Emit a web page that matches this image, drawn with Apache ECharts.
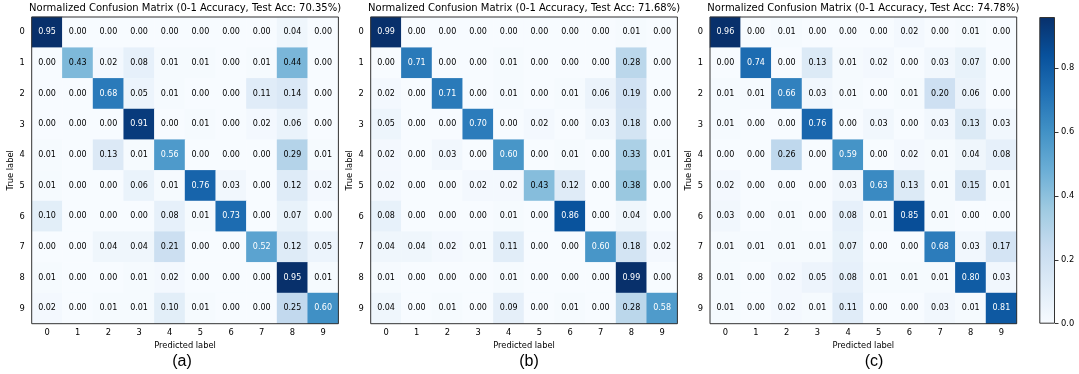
<!DOCTYPE html>
<html>
<head>
<meta charset="utf-8">
<script src="https://cdn.jsdelivr.net/npm/echarts@6/dist/echarts.min.js"></script>
<style>
  html, body { margin: 0; padding: 0; background: #fff; }
  #chart { width: 1079px; height: 374px; }
</style>
</head>
<body>
<div id="chart"></div>
<script>
// class labels (0-9)
const classLabels = ['0', '1', '2', '3', '4', '5', '6', '7', '8', '9']

// rows = true label, columns = predicted label
const matrixA = [
  [0.95, 0.00, 0.00, 0.00, 0.00, 0.00, 0.00, 0.00, 0.04, 0.00],
  [0.00, 0.43, 0.02, 0.08, 0.01, 0.01, 0.00, 0.01, 0.44, 0.00],
  [0.00, 0.00, 0.68, 0.05, 0.01, 0.00, 0.00, 0.11, 0.14, 0.00],
  [0.00, 0.00, 0.00, 0.91, 0.00, 0.01, 0.00, 0.02, 0.06, 0.00],
  [0.01, 0.00, 0.13, 0.01, 0.56, 0.00, 0.00, 0.00, 0.29, 0.01],
  [0.01, 0.00, 0.00, 0.06, 0.01, 0.76, 0.03, 0.00, 0.12, 0.02],
  [0.10, 0.00, 0.00, 0.00, 0.08, 0.01, 0.73, 0.00, 0.07, 0.00],
  [0.00, 0.00, 0.04, 0.04, 0.21, 0.00, 0.00, 0.52, 0.12, 0.05],
  [0.01, 0.00, 0.00, 0.01, 0.02, 0.00, 0.00, 0.00, 0.95, 0.01],
  [0.02, 0.00, 0.01, 0.01, 0.10, 0.01, 0.00, 0.00, 0.25, 0.60]
]
const matrixB = [
  [0.99, 0.00, 0.00, 0.00, 0.00, 0.00, 0.00, 0.00, 0.01, 0.00],
  [0.00, 0.71, 0.00, 0.00, 0.01, 0.00, 0.00, 0.00, 0.28, 0.00],
  [0.02, 0.00, 0.71, 0.00, 0.01, 0.00, 0.01, 0.06, 0.19, 0.00],
  [0.05, 0.00, 0.00, 0.70, 0.00, 0.02, 0.00, 0.03, 0.18, 0.00],
  [0.02, 0.00, 0.03, 0.00, 0.60, 0.00, 0.01, 0.00, 0.33, 0.01],
  [0.02, 0.00, 0.00, 0.02, 0.02, 0.43, 0.12, 0.00, 0.38, 0.00],
  [0.08, 0.00, 0.00, 0.00, 0.01, 0.00, 0.86, 0.00, 0.04, 0.00],
  [0.04, 0.04, 0.02, 0.01, 0.11, 0.00, 0.00, 0.60, 0.18, 0.02],
  [0.01, 0.00, 0.00, 0.00, 0.01, 0.00, 0.00, 0.00, 0.99, 0.00],
  [0.04, 0.00, 0.01, 0.00, 0.09, 0.00, 0.01, 0.00, 0.28, 0.58]
]
const matrixC = [
  [0.96, 0.00, 0.01, 0.00, 0.00, 0.00, 0.02, 0.00, 0.01, 0.00],
  [0.00, 0.74, 0.00, 0.13, 0.01, 0.02, 0.00, 0.03, 0.07, 0.00],
  [0.01, 0.01, 0.66, 0.03, 0.01, 0.00, 0.01, 0.20, 0.06, 0.00],
  [0.01, 0.00, 0.00, 0.76, 0.00, 0.03, 0.00, 0.03, 0.13, 0.03],
  [0.00, 0.00, 0.26, 0.00, 0.59, 0.00, 0.02, 0.01, 0.04, 0.08],
  [0.02, 0.00, 0.00, 0.00, 0.03, 0.63, 0.13, 0.01, 0.15, 0.01],
  [0.03, 0.00, 0.01, 0.00, 0.08, 0.01, 0.85, 0.01, 0.00, 0.00],
  [0.01, 0.01, 0.01, 0.01, 0.07, 0.00, 0.00, 0.68, 0.03, 0.17],
  [0.01, 0.00, 0.02, 0.05, 0.08, 0.01, 0.01, 0.01, 0.80, 0.03],
  [0.01, 0.00, 0.02, 0.01, 0.11, 0.00, 0.00, 0.03, 0.01, 0.81]
]
const testAcc = ['70.35%', '71.68%', '74.78%']
const captions = ['(a)', '(b)', '(c)']
const colorbarTicks = [0, 0.2, 0.4, 0.6, 0.8]

// matplotlib "Blues"
const blues = ['#f7fbff', '#deebf7', '#c6dbef', '#9ecae1', '#6baed6', '#4292c6', '#2171b5', '#08519c', '#08306b']

const font = 'DejaVu Sans'
const panels = [
  { m: matrixA, left: 31.7, cap: 182 },
  { m: matrixB, left: 370.7, cap: 529 },
  { m: matrixC, left: 710, cap: 874 }
]
const gridTop = 17
const gridSize = 306.7
const cbar = { left: 1039.3, width: 15.7 }

let grids = [], xAxes = [], yAxes = [], series = [], visualMaps = [], titles = []

panels.forEach(function (p, i) {
  let vmax = Math.max.apply(null, p.m.map(r => Math.max.apply(null, r)))
  let cells = []
  p.m.forEach(function (row, y) {
    row.forEach(function (v, x) {
      cells.push({
        value: [x, y, v],
        label: { color: v > vmax / 2 ? '#fff' : '#000' }
      })
    })
  })
  grids.push({
    left: p.left, top: gridTop, width: gridSize, height: gridSize,
    show: true, z: 10, backgroundColor: 'transparent',
    borderColor: '#333', borderWidth: 1
  })
  xAxes.push({
    type: 'category', gridIndex: i, data: classLabels, position: 'bottom',
    axisLine: { show: false },
    axisTick: { alignWithLabel: true, length: 3.5, lineStyle: { color: '#000', width: 0.8 } },
    axisLabel: { margin: 5, fontSize: 8.3, color: '#000', fontFamily: font },
    splitLine: { show: false },
    name: 'Predicted label', nameLocation: 'middle', nameGap: 15,
    nameTextStyle: { fontSize: 8.3, color: '#000', fontFamily: font }
  })
  yAxes.push({
    type: 'category', gridIndex: i, data: classLabels, inverse: true,
    axisLine: { show: false },
    axisTick: { alignWithLabel: true, length: 3.5, lineStyle: { color: '#000', width: 0.8 } },
    axisLabel: { margin: 7, fontSize: 8.3, color: '#000', fontFamily: font },
    splitLine: { show: false },
    name: 'True label', nameLocation: 'middle', nameGap: 17,
    nameTextStyle: { fontSize: 8.3, color: '#000', fontFamily: font }
  })
  visualMaps.push({
    type: 'continuous', show: false, seriesIndex: i, dimension: 2,
    min: 0, max: vmax, inRange: { color: blues }
  })
  series.push({
    type: 'heatmap', xAxisIndex: i, yAxisIndex: i, data: cells, z: 1,
    label: {
      show: true, fontSize: 8, fontFamily: font,
      formatter: function (d) { return d.value[2].toFixed(2) }
    },
    emphasis: { disabled: true }
  })
  titles.push({
    text: 'Normalized Confusion Matrix (0-1 Accuracy, Test Acc: ' + testAcc[i] + ')',
    left: p.left + gridSize / 2, top: 3, textAlign: 'center', padding: 0,
    textStyle: { fontSize: 10, fontWeight: 'normal', color: '#000', fontFamily: font }
  })
  titles.push({
    text: captions[i], left: p.cap, top: 354, textAlign: 'center', padding: 0,
    textStyle: { fontSize: 16, fontWeight: 'normal', color: '#000', fontFamily: 'Liberation Sans' }
  })
})

// colorbar for the last panel
let cbMax = Math.max.apply(null, matrixC.map(r => Math.max.apply(null, r)))
grids.push({ left: cbar.left, top: gridTop, width: cbar.width, height: gridSize })
xAxes.push({ type: 'category', gridIndex: 3, data: ['cb'], show: false })
yAxes.push({
  type: 'value', gridIndex: 3, position: 'right', min: 0, max: cbMax,
  axisLine: { show: false },
  axisTick: { show: true, length: 3.5, customValues: colorbarTicks, lineStyle: { color: '#000', width: 0.8 } },
  axisLabel: {
    customValues: colorbarTicks, margin: 6, fontSize: 8.3, color: '#000', fontFamily: font,
    formatter: function (v) { return v.toFixed(1) }
  },
  splitLine: { show: false }
})
series.push({
  type: 'bar', xAxisIndex: 3, yAxisIndex: 3, data: [cbMax], barWidth: '100%',
  itemStyle: {
    borderColor: '#333', borderWidth: 1,
    color: new echarts.graphic.LinearGradient(0, 1, 0, 0,
      blues.map((c, k) => ({ offset: k / (blues.length - 1), color: c })))
  },
  emphasis: { disabled: true }, silent: true
})

let chart = echarts.init(document.getElementById('chart'), null, { renderer: 'canvas' })
chart.setOption({
  backgroundColor: '#fff',
  animation: false,
  title: titles,
  grid: grids,
  xAxis: xAxes,
  yAxis: yAxes,
  visualMap: visualMaps,
  series: series
})
</script>
</body>
</html>
